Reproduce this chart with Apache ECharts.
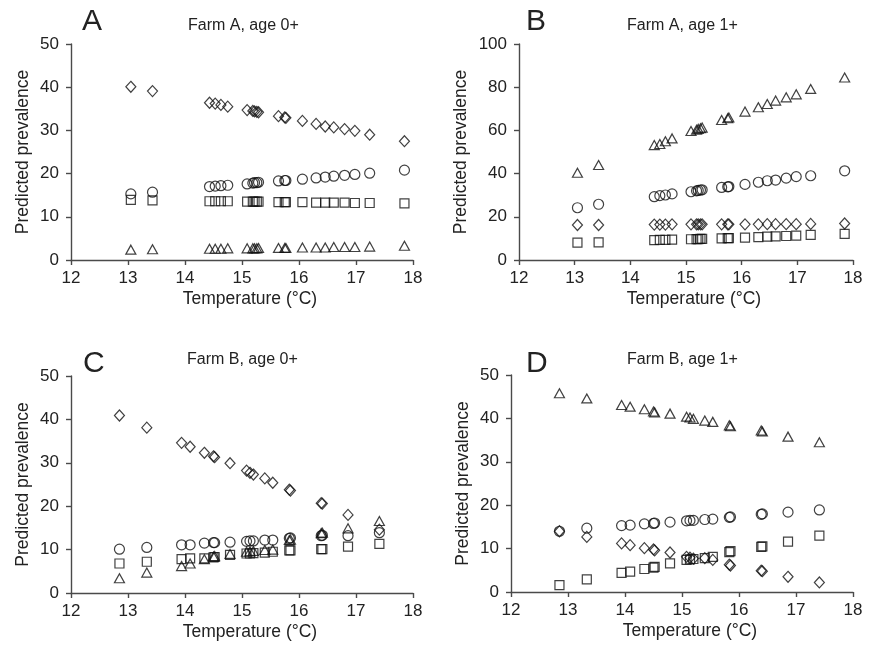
<!DOCTYPE html>
<html>
<head>
<meta charset="utf-8">
<script src="https://cdn.jsdelivr.net/npm/echarts@6/dist/echarts.min.js"></script>
<style>
  html, body { margin: 0; padding: 0; background: #fff; }
  #chart { width: 869px; height: 646px; }
</style>
</head>
<body>
<div id="chart"></div>
<script>
// Farm A temperatures (panels A and B)
const tempFarmA = [13.05, 13.43, 14.43, 14.53, 14.63, 14.75, 15.09, 15.19, 15.22, 15.26, 15.29,
  15.64, 15.75, 15.77, 16.06, 16.30, 16.46, 16.61, 16.80, 16.98, 17.24, 17.85];

// Panel A: Farm A, age 0+
const aDiamond = [40.1, 39.1, 36.4, 36.2, 35.9, 35.5, 34.7, 34.5, 34.4, 34.3, 34.2,
  33.3, 33.0, 32.9, 32.2, 31.5, 30.9, 30.7, 30.3, 29.9, 29.0, 27.5];
const aCircle = [15.3, 15.7, 17.0, 17.1, 17.2, 17.3, 17.6, 17.8, 17.9, 17.9, 18.0,
  18.3, 18.4, 18.4, 18.7, 19.0, 19.2, 19.4, 19.6, 19.8, 20.1, 20.8];
const aSquare = [13.9, 13.8, 13.6, 13.6, 13.6, 13.6, 13.5, 13.5, 13.5, 13.5, 13.5,
  13.4, 13.4, 13.4, 13.4, 13.3, 13.3, 13.3, 13.3, 13.2, 13.2, 13.1];
const aTriangle = [2.4, 2.5, 2.6, 2.6, 2.6, 2.7, 2.7, 2.7, 2.7, 2.7, 2.8,
  2.8, 2.8, 2.8, 2.9, 2.9, 2.9, 3.0, 3.0, 3.0, 3.1, 3.3];

// Panel B: Farm A, age 1+
const bTriangle = [40.4, 44.0, 53.2, 53.7, 55.0, 56.3, 59.7, 60.3, 60.7, 61.0, 61.3,
  64.8, 65.6, 66.0, 68.7, 70.7, 72.2, 73.8, 75.3, 76.7, 79.2, 84.5];
const bCircle = [24.2, 25.8, 29.3, 29.8, 30.1, 30.6, 31.6, 32.0, 32.2, 32.4, 32.5,
  33.6, 33.9, 34.0, 35.0, 36.0, 36.7, 37.0, 37.9, 38.6, 39.0, 41.3];
const bDiamond = [16.2, 16.2, 16.4, 16.4, 16.4, 16.5, 16.5, 16.5, 16.5, 16.5, 16.5,
  16.5, 16.5, 16.5, 16.5, 16.5, 16.6, 16.6, 16.6, 16.6, 16.7, 16.9];
const bSquare = [8.0, 8.2, 9.2, 9.3, 9.3, 9.4, 9.6, 9.7, 9.7, 9.8, 9.8,
  10.0, 10.1, 10.1, 10.4, 10.6, 10.8, 10.9, 11.1, 11.3, 11.6, 12.1];

// Farm B temperatures (panels C and D)
const tempFarmB = [12.85, 13.33, 13.94, 14.09, 14.34, 14.50, 14.52, 14.79, 15.08, 15.14,
  15.20, 15.40, 15.54, 15.83, 15.85, 16.39, 16.41, 16.86, 17.41];

// Panel C: Farm B, age 0+
const cDiamond = [40.9, 38.1, 34.6, 33.7, 32.3, 31.5, 31.3, 29.9, 28.2, 27.7,
  27.3, 26.4, 25.4, 23.8, 23.6, 20.7, 20.6, 18.0, 14.6];
const cCircle = [10.1, 10.5, 11.1, 11.1, 11.5, 11.6, 11.6, 11.7, 11.9, 12.0,
  12.0, 12.2, 12.2, 12.6, 12.7, 13.2, 13.3, 13.2, 13.9];
const cSquare = [6.8, 7.2, 7.8, 8.0, 8.0, 8.2, 8.3, 8.8, 9.1, 9.1,
  9.2, 9.3, 9.5, 9.8, 9.8, 10.1, 10.1, 10.7, 11.3];
const cTriangle = [3.4, 4.7, 6.2, 6.8, 7.8, 8.4, 8.5, 9.0, 9.5, 9.6,
  9.7, 9.9, 10.0, 12.2, 12.3, 13.8, 13.9, 14.9, 16.6];

// Panel D: Farm B, age 1+
const dTriangle = [45.8, 44.6, 43.1, 42.7, 42.1, 41.6, 41.4, 41.1, 40.4, 40.2,
  39.9, 39.5, 39.2, 38.4, 38.2, 37.2, 37.0, 35.8, 34.5];
const dCircle = [14.0, 14.7, 15.3, 15.4, 15.7, 15.8, 15.9, 16.1, 16.4, 16.5,
  16.5, 16.7, 16.8, 17.2, 17.3, 17.9, 18.0, 18.4, 18.9];
const dDiamond = [14.0, 12.7, 11.2, 10.8, 10.1, 9.8, 9.6, 9.1, 8.1, 7.9,
  7.7, 7.8, 7.4, 6.3, 6.1, 4.9, 4.8, 3.5, 2.2];
const dSquare = [1.6, 2.9, 4.4, 4.7, 5.3, 5.6, 5.8, 6.6, 7.4, 7.5,
  7.6, 7.8, 8.1, 9.2, 9.4, 10.4, 10.5, 11.6, 13.0];

const xTicks = [12, 13, 14, 15, 16, 17, 18];

const FONT = "'Liberation Sans', Arial, sans-serif";
const INK = "#222";
const AXIS = "#4a4a4a";

const symbols = {
  circle: { symbol: "circle", size: 10 },
  square: { symbol: "rect", size: 9 },
  diamond: { symbol: "diamond", size: [10, 11] },
  triangle: { symbol: "triangle", size: [10, 9] }
};

function pts(xs, ys) {
  return xs.map((x, i) => [x, ys[i]]);
}

function scatter(idx, kind, xs, ys) {
  return {
    type: "scatter",
    xAxisIndex: idx,
    yAxisIndex: idx,
    symbol: symbols[kind].symbol,
    symbolSize: symbols[kind].size,
    data: pts(xs, ys),
    silent: true,
    itemStyle: { color: "transparent", borderColor: "#111", borderWidth: 1.2 }
  };
}

function xAxis(idx) {
  return {
    gridIndex: idx,
    type: "value",
    min: xTicks[0],
    max: xTicks[xTicks.length - 1],
    interval: 1,
    name: "Temperature (°C)",
    nameLocation: "middle",
    nameGap: 30,
    nameTextStyle: { fontFamily: FONT, fontSize: 17.5, color: INK, padding: [0, 0, 0, 16] },
    axisLine: { onZero: false, lineStyle: { color: AXIS, width: 1.4 } },
    axisTick: { length: 5, lineStyle: { color: AXIS, width: 1.4 } },
    axisLabel: { fontFamily: FONT, fontSize: 17, color: INK, margin: 10 },
    splitLine: { show: false }
  };
}

function yAxis(idx, max, interval, gap) {
  return {
    gridIndex: idx,
    type: "value",
    min: 0,
    max: max,
    interval: interval,
    name: "Predicted prevalence",
    nameLocation: "middle",
    nameGap: gap,
    nameTextStyle: { fontFamily: FONT, fontSize: 17.5, color: INK },
    axisLine: { show: true, lineStyle: { color: AXIS, width: 1.4 } },
    axisTick: { show: true, length: 5, lineStyle: { color: AXIS, width: 1.4 } },
    axisLabel: { fontFamily: FONT, fontSize: 17, color: INK, margin: 12 },
    splitLine: { show: false }
  };
}

function letter(text, left, top) {
  return { text: text, left: left, top: top, padding: 0,
    textStyle: { fontFamily: FONT, fontSize: 30, fontWeight: "normal", color: INK } };
}
function caption(text, left, top) {
  return { text: text, left: left, top: top, padding: 0,
    textStyle: { fontFamily: FONT, fontSize: 16, fontWeight: "normal", color: INK } };
}

const chart = echarts.init(document.getElementById("chart"), null, { renderer: "canvas" });

chart.setOption({
  animation: false,
  backgroundColor: "#fff",
  title: [
    letter("A", 82, 7), caption("Farm A, age 0+", 188, 18),
    letter("B", 526, 7), caption("Farm A, age 1+", 627, 18),
    letter("C", 83, 349), caption("Farm B, age 0+", 187, 352),
    letter("D", 526, 349), caption("Farm B, age 1+", 627, 352)
  ],
  grid: [
    { left: 71, top: 44, width: 342, height: 216 },
    { left: 519, top: 44, width: 334, height: 216 },
    { left: 71, top: 376, width: 342, height: 217 },
    { left: 511, top: 375, width: 342, height: 217 }
  ],
  xAxis: [xAxis(0), xAxis(1), xAxis(2), xAxis(3)],
  yAxis: [yAxis(0, 50, 10, 39), yAxis(1, 100, 20, 49), yAxis(2, 50, 10, 39), yAxis(3, 50, 10, 39)],
  series: [
    scatter(0, "diamond", tempFarmA, aDiamond),
    scatter(0, "circle", tempFarmA, aCircle),
    scatter(0, "square", tempFarmA, aSquare),
    scatter(0, "triangle", tempFarmA, aTriangle),

    scatter(1, "triangle", tempFarmA, bTriangle),
    scatter(1, "circle", tempFarmA, bCircle),
    scatter(1, "diamond", tempFarmA, bDiamond),
    scatter(1, "square", tempFarmA, bSquare),

    scatter(2, "diamond", tempFarmB, cDiamond),
    scatter(2, "circle", tempFarmB, cCircle),
    scatter(2, "square", tempFarmB, cSquare),
    scatter(2, "triangle", tempFarmB, cTriangle),

    scatter(3, "triangle", tempFarmB, dTriangle),
    scatter(3, "circle", tempFarmB, dCircle),
    scatter(3, "diamond", tempFarmB, dDiamond),
    scatter(3, "square", tempFarmB, dSquare)
  ]
});
</script>
</body>
</html>
